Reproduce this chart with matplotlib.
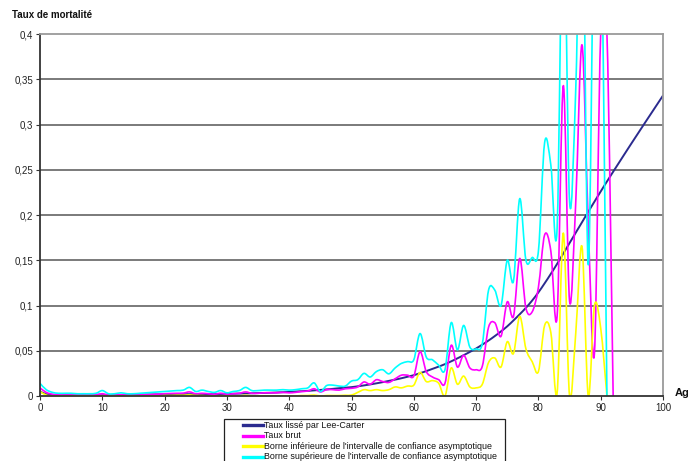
import numpy as np
import matplotlib
matplotlib.use("Agg")
import matplotlib.pyplot as plt
from matplotlib.path import Path
from matplotlib.patches import PathPatch, Rectangle
from matplotlib.lines import Line2D

plt.rcParams['font.family'] = ['Liberation Sans', 'DejaVu Sans']

# ---- data -------------------------------------------------------------
ages_lc = list(range(0, 101))
taux_lee_carter = [
    0.0050, 0.0020, 0.0012, 0.0009, 0.0008, 0.0007, 0.0007, 0.0007, 0.0007, 0.0007,
    0.0008, 0.0008, 0.0009, 0.0010, 0.0011, 0.0013, 0.0015, 0.0016, 0.0017, 0.0018,
    0.0018, 0.0019, 0.0019, 0.0020, 0.0020, 0.0020, 0.0021, 0.0021, 0.0022, 0.0023,
    0.0024, 0.0025, 0.0027, 0.0028, 0.0030, 0.0032, 0.0034, 0.0036, 0.0039, 0.0042,
    0.0045, 0.0049, 0.0053, 0.0057, 0.0062, 0.0067, 0.0073, 0.0079, 0.0086, 0.0092,
    0.0098, 0.0107, 0.0117, 0.0128, 0.0140, 0.0153, 0.0167, 0.0181, 0.0196, 0.0213,
    0.0230, 0.0252, 0.0275, 0.0300, 0.0325, 0.0352, 0.0383, 0.0416, 0.0451, 0.0487,
    0.0525, 0.0568, 0.0613, 0.0662, 0.0714, 0.0770, 0.0835, 0.0903, 0.0975, 0.1055,
    0.1145, 0.1245, 0.1350, 0.1460, 0.1575, 0.1690, 0.1805, 0.1920, 0.2035, 0.2148,
    0.2260, 0.2370, 0.2478, 0.2585, 0.2692, 0.2798, 0.2903, 0.3008, 0.3112, 0.3216,
    0.3320,
]

ages_brut = list(range(0, 93))
taux_brut = [
    0.0090, 0.0040, 0.0020, 0.0015, 0.0012, 0.0012, 0.0010, 0.0010, 0.0010, 0.0015,
    0.0025, 0.0010, 0.0010, 0.0015, 0.0010, 0.0010, 0.0012, 0.0015, 0.0018, 0.0020,
    0.0025, 0.0028, 0.0030, 0.0032, 0.0045, 0.0025, 0.0030, 0.0025, 0.0020, 0.0030,
    0.0020, 0.0025, 0.0030, 0.0045, 0.0030, 0.0030, 0.0035, 0.0035, 0.0035, 0.0040,
    0.0035, 0.0040, 0.0050, 0.0055, 0.0080, 0.0045, 0.0070, 0.0070, 0.0065, 0.0080,
    0.0085, 0.0100, 0.0155, 0.0130, 0.0180, 0.0160, 0.0150, 0.0190, 0.0230, 0.0230,
    0.0220, 0.0490, 0.0270, 0.0210, 0.0180, 0.0140, 0.0560, 0.0320, 0.0450, 0.0310,
    0.0290, 0.0330, 0.0760, 0.0810, 0.0660, 0.1040, 0.0880, 0.1520, 0.0970, 0.0930,
    0.1200, 0.1780, 0.1600, 0.0880, 0.3430, 0.1050, 0.2150, 0.3880, 0.1900, 0.0480,
    0.4000, 0.4000, 0.0000,
]

ages_ic = list(range(0, 92))
borne_inf = [
    0.0050, 0.0010, 0.0000, 0.0000, 0.0000, 0.0000, 0.0000, 0.0000, 0.0000, 0.0000,
    0.0000, 0.0000, 0.0000, 0.0000, 0.0000, 0.0000, 0.0000, 0.0000, 0.0000, 0.0000,
    0.0005, 0.0005, 0.0008, 0.0008, 0.0012, 0.0005, 0.0005, 0.0000, 0.0000, 0.0000,
    0.0000, 0.0000, 0.0000, 0.0008, 0.0000, 0.0000, 0.0000, 0.0000, 0.0000, 0.0000,
    0.0000, 0.0000, 0.0005, 0.0005, 0.0010, 0.0000, 0.0005, 0.0005, 0.0005, 0.0008,
    0.0010, 0.0040, 0.0070, 0.0060, 0.0070, 0.0060, 0.0070, 0.0100, 0.0090, 0.0110,
    0.0120, 0.0260, 0.0160, 0.0170, 0.0140, 0.0000, 0.0310, 0.0130, 0.0220, 0.0100,
    0.0090, 0.0130, 0.0370, 0.0420, 0.0320, 0.0600, 0.0470, 0.0880, 0.0520, 0.0380,
    0.0270, 0.0780, 0.0700, 0.0030, 0.1800, 0.0000, 0.0700, 0.1650, 0.0000, 0.1000,
    0.0750, 0.0000,
]
borne_sup = [
    0.0140, 0.0070, 0.0040, 0.0030, 0.0030, 0.0030, 0.0025, 0.0025, 0.0025, 0.0030,
    0.0060, 0.0025, 0.0025, 0.0035, 0.0025, 0.0025, 0.0030, 0.0035, 0.0040, 0.0045,
    0.0050, 0.0055, 0.0060, 0.0065, 0.0095, 0.0050, 0.0065, 0.0050, 0.0040, 0.0060,
    0.0035, 0.0050, 0.0060, 0.0095, 0.0060, 0.0060, 0.0065, 0.0065, 0.0065, 0.0070,
    0.0065, 0.0070, 0.0080, 0.0090, 0.0145, 0.0050, 0.0115, 0.0120, 0.0110, 0.0110,
    0.0165, 0.0180, 0.0250, 0.0210, 0.0270, 0.0290, 0.0245, 0.0310, 0.0360, 0.0380,
    0.0400, 0.0690, 0.0430, 0.0400, 0.0340, 0.0290, 0.0810, 0.0510, 0.0780, 0.0540,
    0.0520, 0.0580, 0.1170, 0.1170, 0.1000, 0.1500, 0.1270, 0.2180, 0.1500, 0.1530,
    0.1600, 0.2800, 0.2550, 0.1850, 0.5600, 0.2150, 0.3400, 0.6000, 0.1450, 0.5600,
    0.5600, 0.0000,
]

series_labels = [
    "Taux lissé par Lee-Carter",
    "Taux brut",
    "Borne inférieure de l'intervalle de confiance asymptotique",
    "Borne supérieure de l'intervalle de confiance asymptotique",
]
series_colors = ["#2b2b8f", "#ff00ff", "#ffff00", "#00ffff"]
series_widths = [1.4, 1.2, 1.2, 1.2]

y_ticks = [0, 0.05, 0.1, 0.15, 0.2, 0.25, 0.3, 0.35, 0.4]
y_tick_labels = ["0", "0,05", "0,1", "0,15", "0,2", "0,25", "0,3", "0,35", "0,4"]
x_ticks = list(range(0, 101, 10))


def smooth_path(xs, ys):
    """Smoothed line through the points (cubic Bezier, Catmull-Rom tangents)."""
    p = np.column_stack([xs, ys]).astype(float)
    ext = np.vstack([p[0], p, p[-1]])
    verts = [p[0]]
    codes = [Path.MOVETO]
    for i in range(len(p) - 1):
        p0, p1, p2, p3 = ext[i], ext[i + 1], ext[i + 2], ext[i + 3]
        c1 = p1 + (p2 - p0) / 6.0
        c2 = p2 - (p3 - p1) / 6.0
        verts += [c1, c2, p2]
        codes += [Path.CURVE4] * 3
    return Path(verts, codes)


# ---- figure -----------------------------------------------------------
fig = plt.figure(figsize=(6.88, 4.61), dpi=100)
ax = fig.add_axes([40 / 688, 65 / 461, 623 / 688, 362 / 461])

ax.set_xlim(0, 100)
ax.set_ylim(0, 0.4)

for yv in y_ticks[1:-1]:
    ax.axhline(yv, color="#707070", lw=1.3, zorder=0.5)

all_series = [
    (ages_lc, taux_lee_carter),
    (ages_brut, taux_brut),
    (ages_ic, borne_inf),
    (ages_ic, borne_sup),
]
for (xs, ys), col, lw, z in zip(all_series, series_colors, series_widths, [3, 4, 5, 6]):
    patch = PathPatch(smooth_path(xs, ys), facecolor="none", edgecolor=col,
                      lw=lw, zorder=z, capstyle="round", joinstyle="round")
    ax.add_patch(patch)

ax.set_yticks(y_ticks)
ax.set_yticklabels(y_tick_labels)
ax.set_xticks(x_ticks)
ax.set_xticklabels([str(v) for v in x_ticks])
ax.tick_params(axis="both", labelsize=7, length=3, width=0.8, color="#333333",
               labelcolor="#222222", pad=2)

ax.spines["left"].set_color("#333333")
ax.spines["left"].set_linewidth(1.3)
ax.spines["bottom"].set_color("#333333")
ax.spines["bottom"].set_linewidth(1.3)
ax.spines["top"].set_color("#9a9a9a")
ax.spines["top"].set_linewidth(1.3)
ax.spines["right"].set_color("#9a9a9a")
ax.spines["right"].set_linewidth(1.3)
for sp in ax.spines.values():
    sp.set_zorder(7)

fig.text(12.5 / 688, 1 - 14.5 / 461, "Taux de mortalité", fontsize=7,
         fontweight="bold", ha="left", va="center", color="#111111")
fig.text(675 / 688, 1 - 393 / 461, "Age", fontsize=8, fontweight="bold",
         ha="left", va="center", color="#111111")

# ---- legend box ---------------------------------------------------------
W, H = 688.0, 461.0
fig.patches.append(Rectangle((224 / W, 1 - 480 / H), (505 - 224) / W, (480 - 419) / H,
                             transform=fig.transFigure, facecolor="white",
                             edgecolor="#222222", lw=0.9, zorder=10))
row_y = [425, 435.5, 446, 456.5]
for ry, lab, col in zip(row_y, series_labels, series_colors):
    fig.lines.append(Line2D([243 / W, 263 / W], [1 - ry / H, 1 - ry / H],
                            transform=fig.transFigure, color=col, lw=2.4,
                            zorder=11))
    fig.text(264.5 / W, 1 - ry / H, lab, fontsize=6.4, ha="left", va="center",
             color="#111111", zorder=11)

fig.savefig("out.png", dpi=100)
